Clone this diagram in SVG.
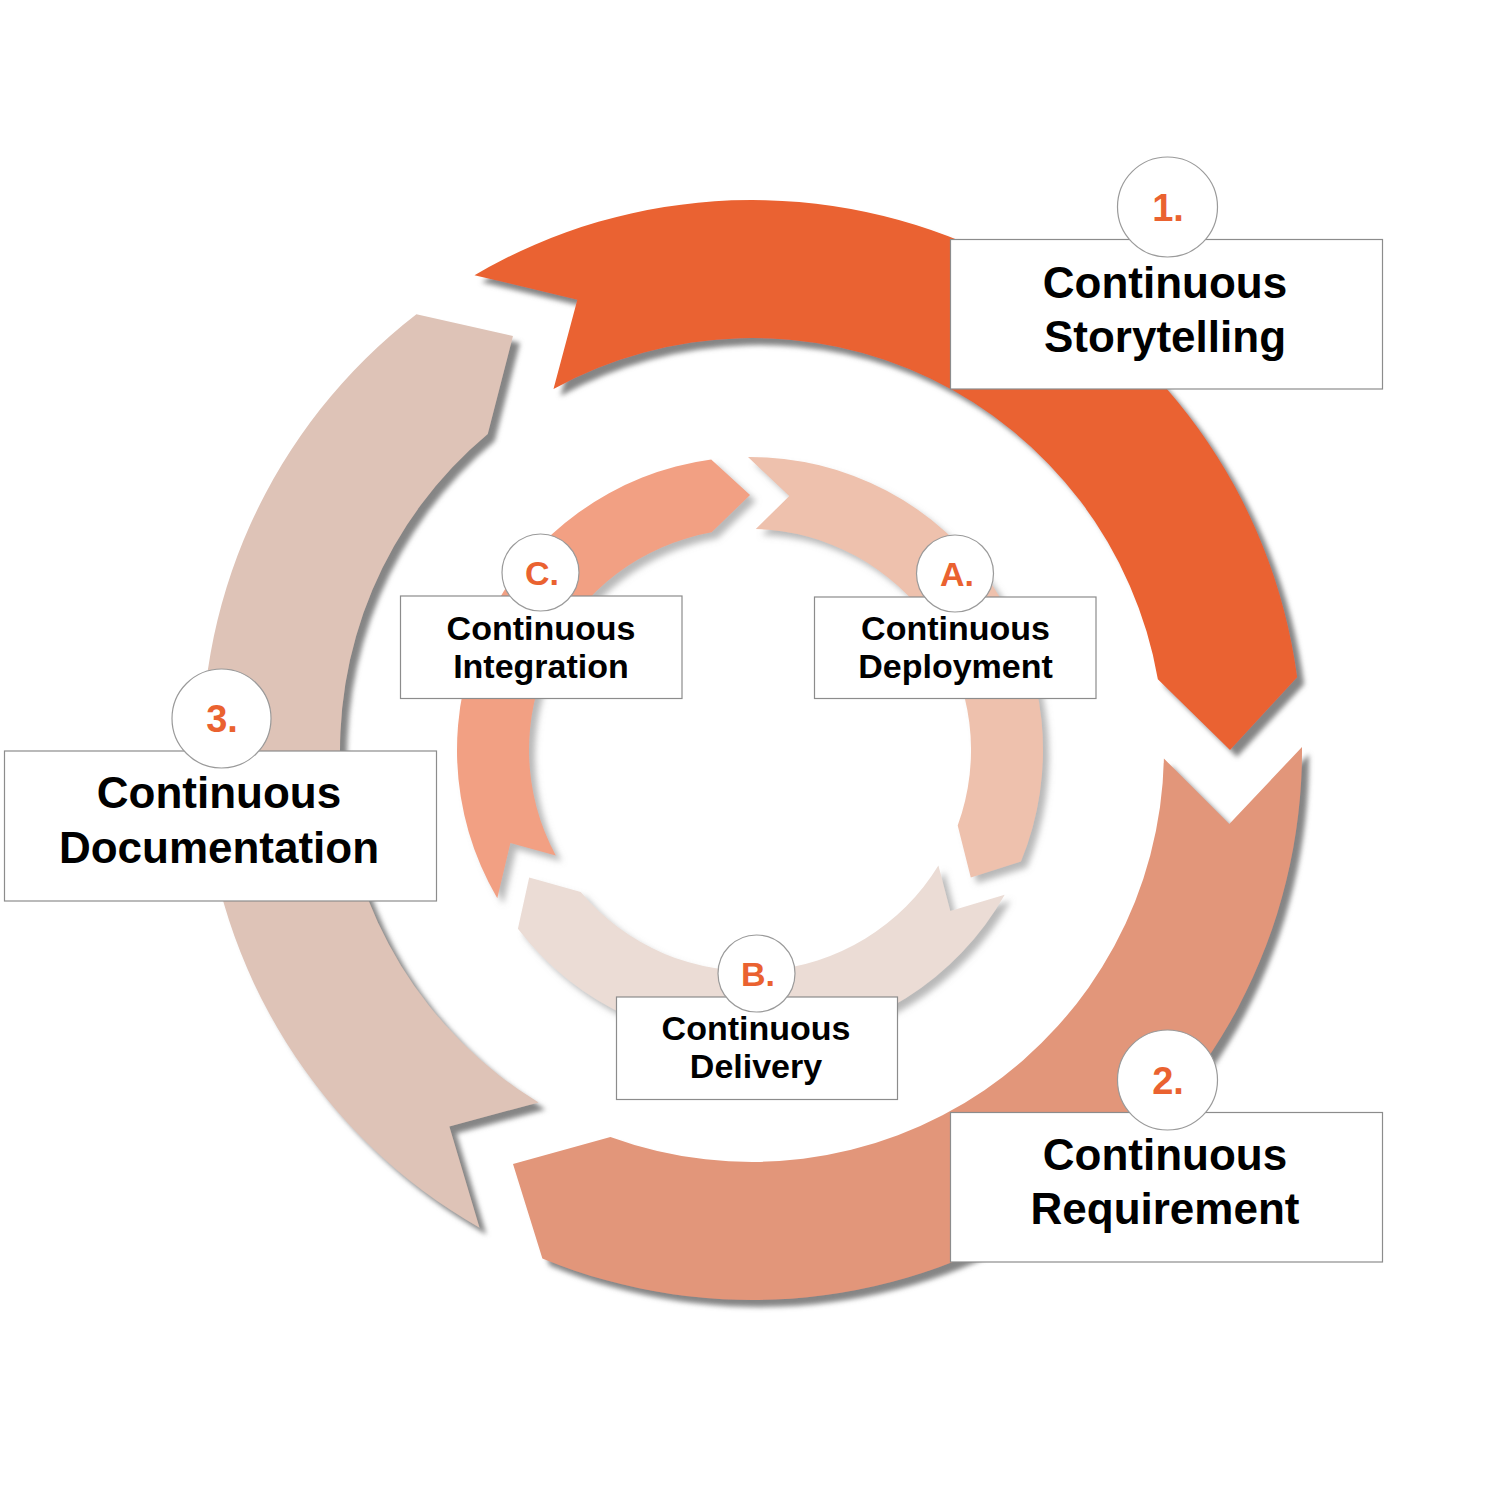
<svg xmlns="http://www.w3.org/2000/svg" width="1500" height="1500" viewBox="0 0 1500 1500">
  <defs>
    <filter id="shOuter" x="-15%" y="-15%" width="130%" height="130%">
      <feDropShadow dx="7" dy="7" stdDeviation="2.5" flood-color="#787878" flood-opacity="0.9"/>
    </filter>
    <filter id="shInner" x="-15%" y="-15%" width="130%" height="130%">
      <feDropShadow dx="6" dy="6" stdDeviation="3" flood-color="#8a8a8a" flood-opacity="0.6"/>
    </filter>
    <path id="outerArrow" d="M1302 747.1 A550 550 0 0 1 542.4 1258.5 L513 1164 L610.4 1136.9 A412 412 0 0 0 1163.9 758.6 L1229.3 823.9 Z"/>
    <path id="innerArrow" d="M1043 748 A293 293 0 0 1 638.4 1020.9 L622.5 970.8 L674.4 957.7 A221 221 0 0 0 970.9 755.8 L1004 789.3 Z"/>
  </defs>
  <style>
    .box { fill: #ffffff; stroke: #8c8c8c; stroke-width: 1.2; }
    .badge { fill: #ffffff; stroke: #9a9a9a; stroke-width: 1.2; }
    .lbl { font-family: "Liberation Sans", Arial, sans-serif; font-weight: bold; fill: #000000; text-anchor: middle; }
    .big { font-size: 44px; }
    .small { font-size: 34px; }
    .num { font-family: "Liberation Sans", Arial, sans-serif; font-weight: bold; fill: #ea6230; text-anchor: middle; }
    .numBig { font-size: 38px; }
    .numSmall { font-size: 34px; }
  </style>
  <rect width="1500" height="1500" fill="#ffffff"/>

  <g id="connectors">
    <g id="arrow-storytelling" filter="url(#shOuter)">
      <use href="#outerArrow" fill="#ea6230" transform="rotate(-120 752 750)"/>
    </g>
    <g id="arrow-requirement" filter="url(#shOuter)">
      <use href="#outerArrow" fill="#e2967a"/>
    </g>
    <g id="arrow-documentation" filter="url(#shOuter)">
      <use href="#outerArrow" fill="#dec3b7" transform="rotate(120 752 750)"/>
    </g>
    <g id="arrow-deployment" filter="url(#shInner)">
      <use href="#innerArrow" fill="#eec1ad" transform="rotate(-90 750 750)"/>
    </g>
    <g id="arrow-delivery" filter="url(#shInner)">
      <use href="#innerArrow" fill="#ebdcd5" transform="rotate(30 750 750)"/>
    </g>
    <g id="arrow-integration" filter="url(#shInner)">
      <use href="#innerArrow" fill="#f2a083" transform="rotate(150 750 750)"/>
    </g>
  </g>

  <g id="node-storytelling">
    <rect class="box" x="950.5" y="239.5" width="432" height="149.5"/>
    <text class="lbl big" x="1165" y="298">Continuous</text>
    <text class="lbl big" x="1165" y="352">Storytelling</text>
    <circle class="badge" cx="1167.5" cy="207" r="50"/>
    <text class="num numBig" x="1168" y="221">1.</text>
  </g>

  <g id="node-requirement">
    <rect class="box" x="950.5" y="1112.5" width="432" height="149.5"/>
    <text class="lbl big" x="1165" y="1170">Continuous</text>
    <text class="lbl big" x="1165" y="1224">Requirement</text>
    <circle class="badge" cx="1167.5" cy="1080" r="50"/>
    <text class="num numBig" x="1168" y="1094">2.</text>
  </g>

  <g id="node-documentation">
    <rect class="box" x="4.5" y="751" width="432" height="150"/>
    <text class="lbl big" x="219" y="808">Continuous</text>
    <text class="lbl big" x="219" y="863">Documentation</text>
    <circle class="badge" cx="221.5" cy="718.5" r="49.5"/>
    <text class="num numBig" x="222" y="732">3.</text>
  </g>

  <g id="node-integration">
    <rect class="box" x="400.5" y="596" width="281.5" height="102.5"/>
    <text class="lbl small" x="541" y="640">Continuous</text>
    <text class="lbl small" x="541" y="678">Integration</text>
    <circle class="badge" cx="540.5" cy="572.5" r="38.5"/>
    <text class="num numSmall" x="542" y="585">C.</text>
  </g>

  <g id="node-deployment">
    <rect class="box" x="814.5" y="597" width="281.5" height="101.5"/>
    <text class="lbl small" x="955.5" y="640">Continuous</text>
    <text class="lbl small" x="955.5" y="678">Deployment</text>
    <circle class="badge" cx="955" cy="573.5" r="38.5"/>
    <text class="num numSmall" x="957" y="586">A.</text>
  </g>

  <g id="node-delivery">
    <rect class="box" x="616.5" y="997" width="281" height="102.5"/>
    <text class="lbl small" x="756" y="1040">Continuous</text>
    <text class="lbl small" x="756" y="1078">Delivery</text>
    <circle class="badge" cx="756.5" cy="973.5" r="38.5"/>
    <text class="num numSmall" x="758" y="986">B.</text>
  </g>
</svg>
